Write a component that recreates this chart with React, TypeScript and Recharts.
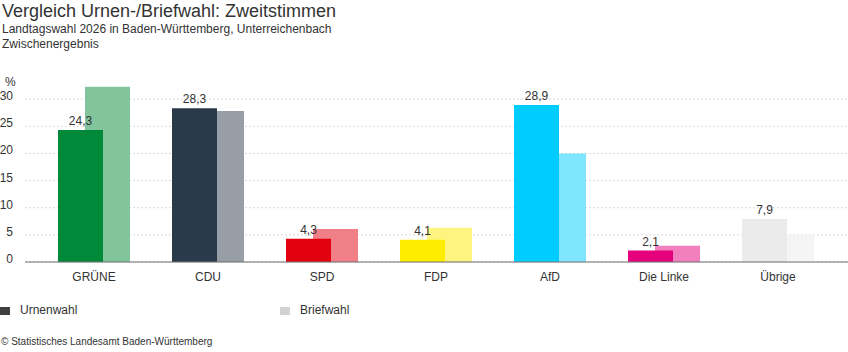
import { BarChart, Bar, XAxis, YAxis, CartesianGrid, LabelList, Cell } from 'recharts';

const parties = ['GRÜNE', 'CDU', 'SPD', 'FDP', 'AfD', 'Die Linke', 'Übrige'];
const urnenwahl = [24.3, 28.3, 4.3, 4.1, 28.9, 2.1, 7.9];
const briefwahl = [32.3, 27.8, 6.1, 6.3, 20.0, 3.0, 5.0];
const urnenColors = ['#008939', '#2b3a4a', '#e3000f', '#ffed00', '#00ccff', '#e5007d', '#ebebeb'];
const briefColors = ['#82c59d', '#979ea6', '#f07f87', '#fff47f', '#80e5ff', '#f27fbe', '#f5f5f5'];
const yTicks = [0, 5, 10, 15, 20, 25, 30];

const FONT = '"Liberation Sans", Arial, sans-serif';
const TEXT = '#333';

const data = parties.map((p, i) => ({ party: p, urne: urnenwahl[i], brief: briefwahl[i] }));

const fmt = (v: any) => Number(v).toFixed(1).replace('.', ',');

// y tick labels sit slightly above their grid line
const YTick = (props: any) => {
  const { x, y, payload } = props;
  return (
    <text x={x} y={y} dy={1} textAnchor="end" fontSize={12} fill={TEXT} fontFamily={FONT}>
      {payload.value}
    </text>
  );
};

export default function App() {
  return (
    <div style={{ position: 'relative', width: 848, height: 352, fontFamily: FONT, color: TEXT, background: '#fff' }}>
      <style>{'body{margin:0}'}</style>
      <div style={{ position: 'absolute', left: 2, top: 0, fontSize: 18, lineHeight: '22px' }}>
        Vergleich Urnen-/Briefwahl: Zweitstimmen
      </div>
      <div style={{ position: 'absolute', left: 2, top: 22, fontSize: 12, lineHeight: '15px' }}>
        Landtagswahl 2026 in Baden-Württemberg, Unterreichenbach
        <br />
        Zwischenergebnis
      </div>
      <div style={{ position: 'absolute', left: 5, top: 75, fontSize: 12, lineHeight: '15px' }}>%</div>

      <div style={{ position: 'absolute', left: 0, top: 0 }}>
        <BarChart
          width={848}
          height={300}
          data={data}
          margin={{ top: 72, right: 0, left: 0, bottom: 8 }}
          barGap={-72}
        >
          <CartesianGrid
            vertical={false}
            horizontalValues={yTicks}
            stroke="#d9d9d9"
            strokeDasharray="2 2"
          />
          <XAxis
            dataKey="party"
            height={30}
            padding={{ left: 12, right: 13 }}
            tickLine={false}
            tickSize={0}
            tickMargin={10}
            axisLine={{ stroke: '#6e6e6e', strokeWidth: 1 }}
            tick={{ fontSize: 12, fill: TEXT, fontFamily: FONT }}
            interval={0}
          />
          <YAxis
            width={25}
            domain={[0, 35]}
            ticks={yTicks}
            axisLine={false}
            tickLine={false}
            tickSize={0}
            tickMargin={12}
            tick={<YTick />}
          />
          <Bar dataKey="brief" barSize={45} isAnimationActive={false}>
            {data.map((d, i) => (
              <Cell key={d.party} fill={briefColors[i]} />
            ))}
          </Bar>
          <Bar dataKey="urne" barSize={45} isAnimationActive={false}>
            {data.map((d, i) => (
              <Cell key={d.party} fill={urnenColors[i]} />
            ))}
            <LabelList
              dataKey="urne"
              position="top"
              offset={5}
              formatter={fmt}
              style={{ fontSize: 12, fill: TEXT, fontFamily: FONT }}
            />
          </Bar>
        </BarChart>
      </div>

      <div style={{ position: 'absolute', left: 0, top: 307, width: 10, height: 8, background: '#404040' }} />
      <div style={{ position: 'absolute', left: 20, top: 303, fontSize: 12, lineHeight: '15px' }}>Urnenwahl</div>
      <div style={{ position: 'absolute', left: 280, top: 307, width: 10, height: 8, background: '#d2d2d2' }} />
      <div style={{ position: 'absolute', left: 300, top: 303, fontSize: 12, lineHeight: '15px' }}>Briefwahl</div>

      <div style={{ position: 'absolute', left: 1, top: 335, fontSize: 10, lineHeight: '13px' }}>
        © Statistisches Landesamt Baden-Württemberg
      </div>
    </div>
  );
}
